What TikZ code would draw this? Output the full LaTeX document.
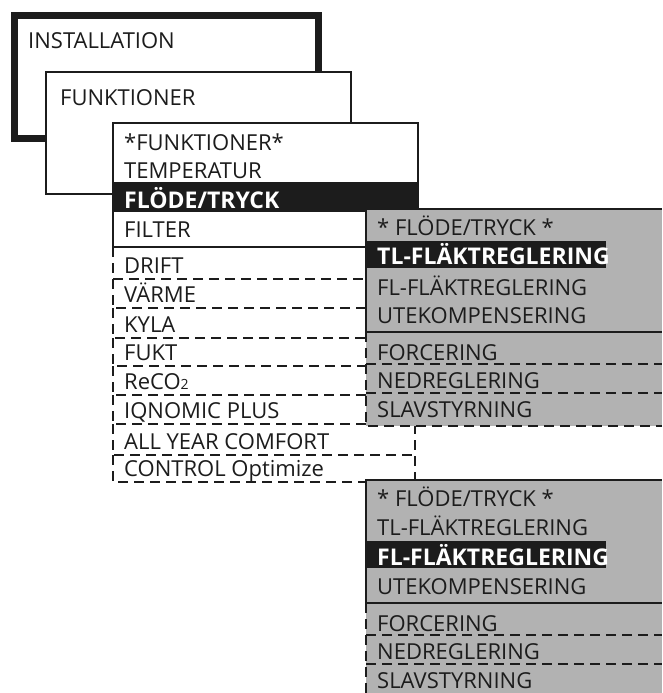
\documentclass[tikz,border=0pt]{standalone}
\usepackage{fontspec}
\setmainfont{Open Sans}
\usetikzlibrary{positioning}
\definecolor{menugray}{HTML}{B2B2B2}
\definecolor{ink}{HTML}{1C1C1C}
\tikzset{
  item/.style={anchor=base west, inner sep=0pt, text=ink, font=\fontsize{22}{22}\selectfont},
  hilite/.style={item, text=white, font=\fontsize{23}{23}\selectfont\bfseries},
  dashrow/.style={draw=ink, line width=2.8pt, dash pattern=on 10pt off 6pt},
}

\begin{document}
\begin{tikzpicture}[x=1pt,y=-1pt]
  \useasboundingbox (0,0) rectangle (662,693);
  \clip (0,0) rectangle (662,693);

  % INSTALLATION and FUNKTIONER frames
  \draw[ink, line width=7pt, fill=white] (14,15.5) rectangle (318.5,138.5);
  \node[item] (inst) at (28,48.5) {INSTALLATION};
  \draw[ink, line width=2.5pt, fill=white] (46,72) rectangle (351,194);
  \node[item] (funk) at (60,105) {FUNKTIONER};

  % dashed rows of the functions list
  \foreach \t/\b/\txt [count=\i] in {247/279/DRIFT, 279/308/VÄRME, 308/338/KYLA,
      338/366/FUKT, 366/395/{ReCO{\fontsize{14}{14}\selectfont 2}}, 395/424/IQNOMIC PLUS,
      424/455/ALL YEAR COMFORT, 455/482/CONTROL Optimize}{
    \draw[dashrow] (113,\t) -- (113,\b) -- (415,\b);
    \node[item] (row\i) at (124,\b-6) {\txt};
  }
  \draw[dashrow] (415,424) -- (415,482);

  % functions menu
  \fill[white] (113,123) rectangle (418,247);
  \fill[ink] (113,182) rectangle (418,212);
  \draw[ink, line width=2pt] (113,123) rectangle (418,247);
  \node[item] (fhead) at (124,150) {*FUNKTIONER*};
  \node[item] (ftemp) at (124,178) {TEMPERATUR};
  \node[hilite] (fflow) at (124,208) {FLÖDE/TRYCK};
  \node[item] (ffilt) at (124,237) {FILTER};

  % flow submenus, TL selected then FL selected
  \foreach \dy/\bar in {0/241, 271/541}{
    \fill[menugray] (366,209+\dy) rectangle (662,426+\dy);
    \fill[ink] (366,\bar) rectangle (606,\bar+27);
    \draw[ink, line width=2pt] (366,332+\dy) -- (366,209+\dy) -- (662,209+\dy);
    \draw[ink, line width=1.4pt] (366,332+\dy) -- (662,332+\dy);
    \draw[dashrow] (366,332+\dy) -- (366,426+\dy) -- (662,426+\dy);
    \draw[dashrow] (366,364+\dy) -- (662,364+\dy);
    \draw[dashrow] (366,393+\dy) -- (662,393+\dy);
    \node[item] (head\dy) at (377,235+\dy) {* FLÖDE/TRYCK *};
    \node[item] (utek\dy) at (377,323+\dy) {UTEKOMPENSERING};
    \node[item] (forc\dy) at (377,360+\dy) {FORCERING};
    \node[item] (nedr\dy) at (377,388+\dy) {NEDREGLERING};
    \node[item] (slav\dy) at (377,417+\dy) {SLAVSTYRNING};
  }
  \node[hilite] (tlA) at (377,264) {TL-FLÄKTREGLERING};
  \node[item] (flA) at (377,295) {FL-FLÄKTREGLERING};
  \node[item] (tlB) at (377,535) {TL-FLÄKTREGLERING};
  \node[hilite] (flB) at (377,565) {FL-FLÄKTREGLERING};
\end{tikzpicture}
\end{document}
